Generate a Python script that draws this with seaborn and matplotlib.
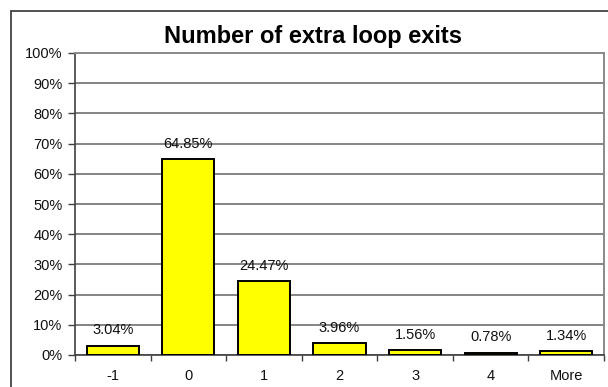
import matplotlib
matplotlib.use("Agg")
import matplotlib.pyplot as plt
from matplotlib import font_manager
from matplotlib.patches import Rectangle
from matplotlib.ticker import FixedLocator, PercentFormatter
import seaborn as sns
import pandas as pd

categories = ["-1", "0", "1", "2", "3", "4", "More"]
shares = [3.04, 64.85, 24.47, 3.96, 1.56, 0.78, 1.34]
bar_labels = ["3.04%", "64.85%", "24.47%", "3.96%", "1.56%", "0.78%", "1.34%"]
title = "Number of extra loop exits"

installed = {f.name for f in font_manager.fontManager.ttflist}
body_font = "Liberation Sans" if "Liberation Sans" in installed else "DejaVu Sans"

sns.set_style("white")
plt.rcParams["font.family"] = [body_font, "DejaVu Sans"]
plt.rcParams["text.color"] = "black"
plt.rcParams["xtick.color"] = "black"
plt.rcParams["ytick.color"] = "black"

df = pd.DataFrame({"exits": categories, "share": shares})

fig = plt.figure(figsize=(6.08, 3.87), dpi=100)
ax = fig.add_axes([75 / 608, 1 - 355 / 387, (604 - 75) / 608, (355 - 53) / 387])

sns.barplot(data=df, x="exits", y="share", order=categories, color="#FFFF00",
            saturation=1, width=0.69, edgecolor="black", linewidth=1.4, ax=ax,
            zorder=3)

ax.set_xlim(-0.5, len(categories) - 0.5)
ax.set_ylim(0, 100)
ax.set_xlabel("")
ax.set_ylabel("")

# y axis: 0..100% in steps of 10 with horizontal gridlines
ax.yaxis.set_major_locator(FixedLocator(range(0, 101, 10)))
ax.yaxis.set_major_formatter(PercentFormatter(decimals=0))
ax.grid(axis="y", color="#707070", linewidth=1.2, zorder=0)
ax.set_axisbelow(True)

# x axis: labels at category centres, tick marks at category boundaries
ax.set_xticks(range(len(categories)))
ax.set_xticklabels(categories)
ax.xaxis.set_minor_locator(FixedLocator([i - 0.5 for i in range(len(categories) + 1)]))
ax.tick_params(axis="x", which="major", length=0, pad=10, labelsize=10.5,
               labelcolor="#111111")
ax.tick_params(axis="x", which="minor", length=4, width=1, color="#404040",
               direction="out", bottom=True)
ax.tick_params(axis="y", which="major", length=5, width=1, color="#404040",
               direction="out", left=True, pad=4, labelsize=10.5,
               labelcolor="#111111")

for side in ("top", "right"):
    ax.spines[side].set_color("#8a8a8a")
    ax.spines[side].set_linewidth(1.4)
for side in ("left", "bottom"):
    ax.spines[side].set_color("#404040")
    ax.spines[side].set_linewidth(1.2)

ax.bar_label(ax.containers[0], labels=bar_labels, padding=6, fontsize=10.5,
             color="#111111")

fig.text(313 / 608, 1 - 36 / 387, title, ha="center", va="center",
         fontsize=17, fontweight="bold", color="black")

# chart-area frame
fig.patches.append(Rectangle((11 / 608, -0.05), 1.1, 1 - 11 / 387 + 0.05,
                             transform=fig.transFigure, fill=False,
                             edgecolor="#333333", linewidth=1.2))

fig.savefig("out.png", dpi=100)
